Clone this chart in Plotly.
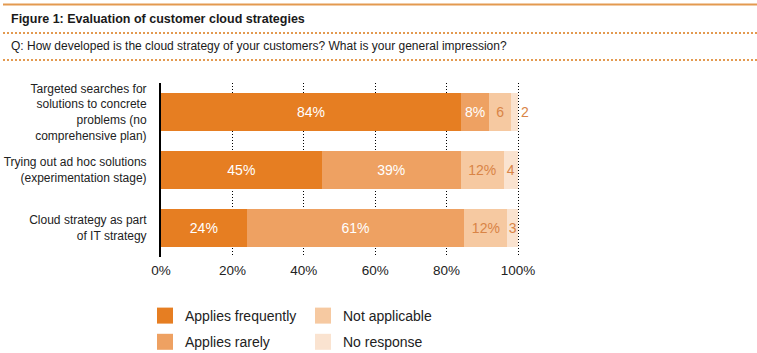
import plotly.graph_objects as go

categories = [
    "Targeted searches for<br>solutions to concrete<br>problems (no<br>comprehensive plan)",
    "Trying out ad hoc solutions<br>(experimentation stage)",
    "Cloud strategy as part<br>of IT strategy",
]
series_names = ["Applies frequently", "Applies rarely", "Not applicable", "No response"]
applies_frequently = [84, 45, 24]
applies_rarely = [8, 39, 61]
not_applicable = [6, 12, 12]
no_response = [2, 4, 3]
labels_frequently = ["84%", "45%", "24%"]
labels_rarely = ["8%", "39%", "61%"]
labels_not_applicable = ["6", "12%", "12%"]
labels_no_response = ["2", "4", "3"]
tick_values = [0, 20, 40, 60, 80, 100]
tick_labels = ["0%", "20%", "40%", "60%", "80%", "100%"]

colors = ["#E67E22", "#EEA162", "#F6C9A1", "#FAE3D0"]
text_colors = ["white", "white", "#D98446", "#D98446"]
values = [applies_frequently, applies_rarely, not_applicable, no_response]
labels = [labels_frequently, labels_rarely, labels_not_applicable, labels_no_response]

FONT = "Liberation Sans, Arial, sans-serif"

W, H = 757, 353

fig = go.Figure()
for i, name in enumerate(series_names):
    positions = ["inside"] * 3
    if i == 3:
        positions = ["outside", "inside", "inside"]
    fig.add_trace(go.Bar(
        y=categories, x=values[i], orientation="h", name=name,
        marker=dict(color=colors[i], line=dict(width=0)),
        text=labels[i], textposition=positions, insidetextanchor="middle",
        textfont=dict(family=FONT, size=14, color=text_colors[i]),
        outsidetextfont=dict(family=FONT, size=14, color=text_colors[i]),
        width=0.655, showlegend=False, cliponaxis=False, hoverinfo="skip",
    ))

# legend entries
legend_of = ["legend", "legend", "legend2", "legend2"]
for i, name in enumerate(series_names):
    fig.add_trace(go.Scatter(
        x=[None], y=[None], mode="markers", name=name,
        marker=dict(symbol="square", size=16, color=colors[i]),
        legend=legend_of[i], legendgroup=name, showlegend=True,
    ))

def px_x(v):
    return v / W

def px_y(v):
    return 1 - v / H

x_left, x_right = 161, 518
xmax = 100.5
x_right_dom = x_left + (x_right - x_left) * xmax / 100

fig.update_layout(
    width=W, height=H,
    margin=dict(l=0, r=0, t=0, b=0, autoexpand=False),
    paper_bgcolor="white", plot_bgcolor="white",
    barmode="stack",
    uniformtext=dict(minsize=14, mode="show"),
    font=dict(family=FONT, size=12, color="#222222"),
    xaxis=dict(
        domain=[px_x(x_left), px_x(x_right_dom)], range=[0, xmax],
        tickvals=tick_values, ticktext=tick_labels,
        showgrid=True, gridcolor="black", gridwidth=1, griddash="1px,2px",
        zeroline=False, showline=False, ticks="",
        ticklabelstandoff=3, automargin=False,
        tickfont=dict(family=FONT, size=13.5, color="#222222"),
        fixedrange=True,
    ),
    yaxis=dict(
        domain=[px_y(257), px_y(83)], type="category",
        categoryorder="array", categoryarray=categories,
        range=[2.5, -0.5],
        showline=True, linecolor="black", linewidth=2,
        showgrid=False, zeroline=False, ticks="",
        ticklabelstandoff=10, automargin=False,
        tickfont=dict(family=FONT, size=12, color="#222222"),
        fixedrange=True,
    ),
    legend=dict(
        x=px_x(145), y=px_y(300), xanchor="left", yanchor="top",
        orientation="v", traceorder="grouped", tracegroupgap=5,
        font=dict(family=FONT, size=14, color="#222222"),
        itemwidth=30, bgcolor="rgba(0,0,0,0)",
    ),
    legend2=dict(
        x=px_x(303), y=px_y(300), xanchor="left", yanchor="top",
        orientation="v", traceorder="grouped", tracegroupgap=5,
        font=dict(family=FONT, size=14, color="#222222"),
        itemwidth=30, bgcolor="rgba(0,0,0,0)",
    ),
    shapes=[
        dict(type="line", xref="paper", yref="paper", x0=px_x(3), x1=1,
             y0=px_y(4.5), y1=px_y(4.5), line=dict(color="#E39A50", width=2)),
        dict(type="line", xref="paper", yref="paper", x0=px_x(3), x1=1,
             y0=px_y(33), y1=px_y(33), line=dict(color="#E39A50", width=2, dash="2px,2px")),
        dict(type="line", xref="paper", yref="paper", x0=px_x(3), x1=1,
             y0=px_y(60), y1=px_y(60), line=dict(color="#E39A50", width=2, dash="2px,2px")),
    ],
    annotations=[
        dict(text="<b>Figure 1: Evaluation of customer cloud strategies</b>",
             xref="paper", yref="paper", x=px_x(9), y=px_y(19),
             xanchor="left", yanchor="middle", showarrow=False,
             font=dict(family=FONT, size=12.5, color="#1a1a1a")),
        dict(text="Q: How developed is the cloud strategy of your customers? What is your general impression?",
             xref="paper", yref="paper", x=px_x(9), y=px_y(46),
             xanchor="left", yanchor="middle", showarrow=False,
             font=dict(family=FONT, size=12, color="#1a1a1a")),
    ],
)

fig.write_html("out.html")
